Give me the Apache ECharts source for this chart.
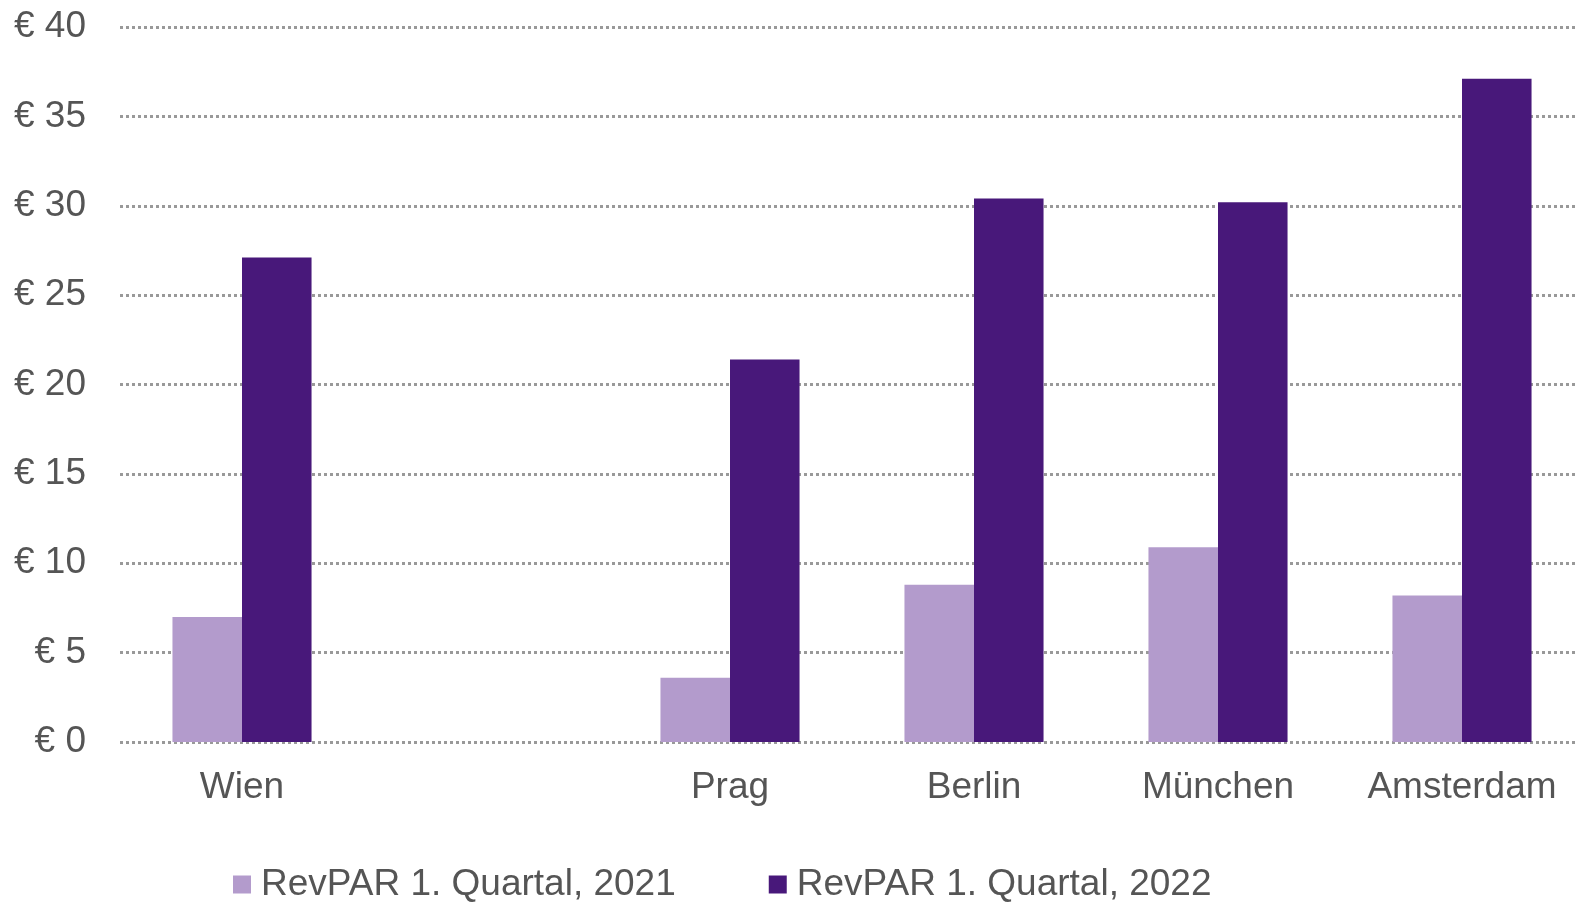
<html>
    <head>
        <meta charset="utf-8">
        <style>
            html, body { margin: 0; padding: 0; background: #fff; }
            #main { width: 1577px; height: 902px; }
        </style>
    </head>
    <body>
        <div id="main"></div>
        <script src="https://cdn.jsdelivr.net/npm/echarts@6/dist/echarts.min.js"></script>
        <script>
            // cities (the blank one is the empty slot between Wien and Prag)
            var cities = ['Wien', '', 'Prag', 'Berlin', 'München', 'Amsterdam'];
            var rev2021 = [7.0, '-', 3.6, 8.8, 10.9, 8.2];
            var rev2022 = [27.1, '-', 21.4, 30.4, 30.2, 37.1];
            var seriesNames = ['RevPAR 1. Quartal, 2021', 'RevPAR 1. Quartal, 2022'];

            var chart = echarts.init(document.getElementById('main'));
            var font = 'Liberation Sans, Arial, sans-serif';

            chart.setOption({
                animation: false,
                color: ['#b39bcc', '#48187a'],
                grid: {
                    left: 120,
                    width: 1464,
                    top: 27,
                    bottom: 160,
                    outerBoundsMode: 'none'
                },
                legend: {
                    left: 228,
                    top: 861,
                    itemWidth: 18,
                    itemHeight: 18,
                    itemGap: 93,
                    icon: 'rect',
                    textStyle: {
                        fontFamily: font,
                        fontSize: 37,
                        color: '#555',
                        padding: [0, 0, 0, 5]
                    },
                    data: seriesNames
                },
                xAxis: {
                    type: 'category',
                    data: cities,
                    axisLine: { show: false },
                    axisTick: { show: false },
                    axisLabel: {
                        margin: 27,
                        fontFamily: font,
                        fontSize: 37,
                        color: '#555',
                        interval: 0
                    }
                },
                yAxis: {
                    type: 'value',
                    min: 0,
                    max: 40,
                    interval: 5,
                    axisLine: { show: false },
                    axisTick: { show: false },
                    axisLabel: {
                        margin: 34,
                        fontFamily: font,
                        fontSize: 37,
                        color: '#555',
                        formatter: '€ {value}'
                    },
                    splitLine: {
                        lineStyle: {
                            color: '#999',
                            width: 3,
                            type: [3, 3]
                        }
                    }
                },
                series: [{
                    name: seriesNames[0],
                    type: 'bar',
                    barGap: '0%',
                    barCategoryGap: '43%',
                    data: rev2021
                }, {
                    name: seriesNames[1],
                    type: 'bar',
                    barGap: '0%',
                    barCategoryGap: '43%',
                    data: rev2022
                }]
            });
        </script>
    </body>
</html>
